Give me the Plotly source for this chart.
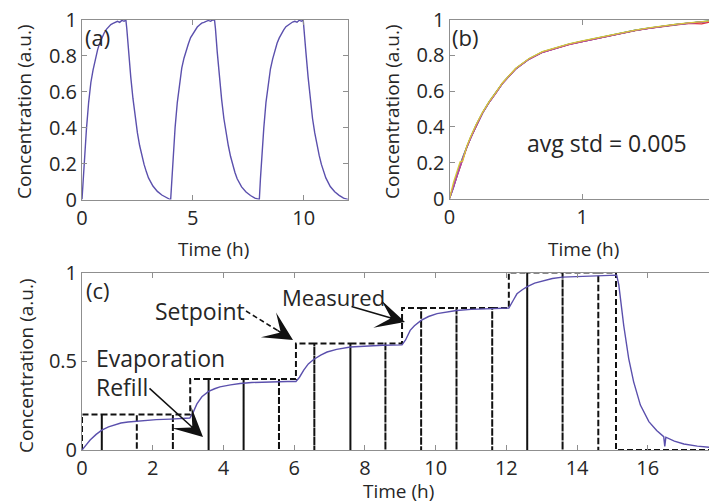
import plotly.graph_objects as go

# page is rendered in a 717x504 window with the default 8px body margin
WIN_W, WIN_H = 717, 504
OFF = 8
W, H = WIN_W - OFF, WIN_H - OFF

# ---------------- Panel (a): periodic concentration ----------------
time_a = [0.0, 0.05, 0.1, 0.2, 0.3, 0.4, 0.5, 0.6, 0.7, 0.8, 0.9, 1.0, 1.1, 1.2, 1.3, 1.4, 1.5, 1.6, 1.7, 1.8, 1.9, 1.98,
          2.02, 2.1, 2.2, 2.3, 2.4, 2.5, 2.6, 2.7, 2.8, 2.9, 3.0, 3.2, 3.4, 3.6, 3.8, 3.98,
          4.0, 4.05, 4.1, 4.2, 4.3, 4.4, 4.5, 4.6, 4.7, 4.8, 4.9, 5.0, 5.1, 5.2, 5.3, 5.4, 5.5, 5.6, 5.7, 5.8, 5.9, 5.98,
          6.02, 6.1, 6.2, 6.3, 6.4, 6.5, 6.6, 6.7, 6.8, 6.9, 7.0, 7.2, 7.4, 7.6, 7.8, 7.98,
          8.0, 8.05, 8.1, 8.2, 8.3, 8.4, 8.5, 8.6, 8.7, 8.8, 8.9, 9.0, 9.1, 9.2, 9.3, 9.4, 9.5, 9.6, 9.7, 9.8, 9.9, 9.98,
          10.02, 10.1, 10.2, 10.3, 10.4, 10.5, 10.6, 10.7, 10.8, 10.9, 11.0, 11.2, 11.4, 11.6, 11.8, 12.0]
conc_a = [0.0, 0.11, 0.21, 0.39, 0.54, 0.65, 0.72, 0.78, 0.83, 0.87, 0.9, 0.925, 0.945, 0.96, 0.972, 0.978, 0.985, 0.99, 0.984, 0.995, 0.99, 0.997,
          0.95, 0.82, 0.68, 0.56, 0.45, 0.37, 0.30, 0.245, 0.195, 0.155, 0.12, 0.075, 0.045, 0.025, 0.01, 0.0,
          0.0, 0.12, 0.22, 0.40, 0.54, 0.65, 0.73, 0.785, 0.83, 0.865, 0.9, 0.92, 0.94, 0.958, 0.97, 0.98, 0.984, 0.99, 0.995, 0.99, 0.998, 0.995,
          0.95, 0.82, 0.675, 0.555, 0.45, 0.37, 0.30, 0.24, 0.19, 0.15, 0.115, 0.07, 0.042, 0.022, 0.008, 0.0,
          0.0, 0.115, 0.215, 0.395, 0.54, 0.645, 0.725, 0.78, 0.83, 0.868, 0.898, 0.922, 0.942, 0.96, 0.97, 0.978, 0.986, 0.99, 0.985, 0.996, 0.99, 0.997,
          0.95, 0.82, 0.68, 0.56, 0.45, 0.37, 0.30, 0.245, 0.195, 0.155, 0.12, 0.072, 0.043, 0.023, 0.008, 0.0]

# ---------------- Panel (b): overlaid repeated rises ----------------
time_b = [0.0, 0.03, 0.06, 0.08, 0.1, 0.13, 0.16, 0.2, 0.25, 0.3, 0.35, 0.4, 0.5, 0.6, 0.7, 0.8, 0.9, 1.0,
          1.1, 1.2, 1.3, 1.4, 1.5, 1.6, 1.7, 1.8, 1.9, 1.95, 2.0]
run_blue = [0.0, 0.06, 0.135, 0.18, 0.225, 0.285, 0.34, 0.405, 0.478, 0.538, 0.59, 0.643, 0.724, 0.779, 0.817, 0.84, 0.861, 0.877,
            0.893, 0.908, 0.925, 0.939, 0.951, 0.962, 0.971, 0.979, 0.986, 0.99, 0.993]
run_green = [0.0, 0.075, 0.145, 0.19, 0.23, 0.29, 0.345, 0.41, 0.482, 0.542, 0.592, 0.646, 0.727, 0.781, 0.819, 0.842, 0.863, 0.879,
             0.895, 0.91, 0.926, 0.94, 0.952, 0.963, 0.972, 0.98, 0.988, 0.992, 0.995]
run_cyan = [0.0, 0.072, 0.142, 0.188, 0.228, 0.288, 0.342, 0.408, 0.48, 0.54, 0.59, 0.645, 0.726, 0.78, 0.818, 0.841, 0.862, 0.878,
            0.894, 0.909, 0.925, 0.94, 0.952, 0.962, 0.971, 0.98, 0.987, 0.991, 0.994]
run_yellow = [0.0, 0.09, 0.16, 0.205, 0.21, 0.292, 0.346, 0.412, 0.483, 0.543, 0.593, 0.647, 0.728, 0.782, 0.82, 0.843, 0.864, 0.88,
              0.896, 0.911, 0.927, 0.941, 0.953, 0.964, 0.973, 0.981, 0.988, 0.991, 0.994]
run_magenta = [0.0, 0.07, 0.14, 0.185, 0.226, 0.286, 0.341, 0.407, 0.479, 0.539, 0.589, 0.644, 0.725, 0.779, 0.817, 0.84, 0.861, 0.877,
               0.893, 0.908, 0.924, 0.939, 0.951, 0.962, 0.971, 0.979, 0.984, 0.988, 0.992]
run_red = [0.0, 0.068, 0.138, 0.183, 0.224, 0.285, 0.34, 0.406, 0.479, 0.539, 0.59, 0.644, 0.725, 0.779, 0.816, 0.838, 0.86, 0.876,
           0.892, 0.907, 0.923, 0.938, 0.95, 0.961, 0.969, 0.978, 0.976, 0.984, 0.99]

# ---------------- Panel (c): setpoint tracking ----------------
time_c = [0.0, 0.1, 0.23, 0.4, 0.56, 0.75, 0.9, 1.1, 1.3, 1.55, 1.8, 2.1, 2.5, 2.8, 3.05,
          3.15, 3.25, 3.39, 3.58, 3.75, 3.9, 4.2, 4.47, 4.8, 5.13, 5.5, 5.8, 6.05,
          6.15, 6.27, 6.4, 6.55, 6.75, 6.93, 7.2, 7.59, 8.0, 8.5, 9.05,
          9.15, 9.28, 9.4, 9.59, 9.8, 10.04, 10.3, 10.59, 11.0, 11.6, 12.07,
          12.2, 12.3, 12.45, 12.59, 12.8, 13.06, 13.3, 13.59, 14.0, 14.6, 15.05, 15.12,
          15.18, 15.25, 15.32, 15.46, 15.6, 15.79, 16.03, 16.25, 16.45, 16.48, 16.51, 16.75, 17.02, 17.4, 17.87]
conc_c = [0.0, 0.025, 0.056, 0.088, 0.112, 0.13, 0.14, 0.152, 0.158, 0.163, 0.168, 0.171, 0.174, 0.177, 0.18,
          0.215, 0.26, 0.30, 0.33, 0.345, 0.356, 0.367, 0.375, 0.38, 0.383, 0.385, 0.386, 0.386,
          0.41, 0.45, 0.485, 0.51, 0.535, 0.552, 0.567, 0.58, 0.586, 0.59, 0.592,
          0.62, 0.674, 0.70, 0.73, 0.752, 0.768, 0.778, 0.786, 0.792, 0.796, 0.80,
          0.845, 0.88, 0.903, 0.92, 0.94, 0.955, 0.966, 0.974, 0.978, 0.98, 0.985, 0.985,
          0.93, 0.82, 0.70, 0.515, 0.384, 0.253, 0.16, 0.11, 0.075, 0.02, 0.072, 0.05, 0.034, 0.022, 0.013]

setpoint_change_times = [0.0, 3.06, 6.05, 9.05, 12.07, 15.1]
setpoint_levels = [0.2, 0.4, 0.6, 0.8, 1.0, 0.0]
refill_times = [0.56, 1.55, 2.57, 3.58, 4.57, 5.57, 6.57, 7.59, 8.58, 9.59, 10.59, 11.6, 12.59, 13.59, 14.6]
t_end_c = 17.9

# build setpoint path (step function with refill dips to zero)
sp_x, sp_y = [0.0], [0.0]
level = 0.0
events = sorted([(t, 'step', lv) for t, lv in zip(setpoint_change_times, setpoint_levels)] +
                [(t, 'refill', None) for t in refill_times], key=lambda e: e[0])
for t, kind, lv in events:
    sp_x.append(t); sp_y.append(level)
    if kind == 'step':
        level = lv
        sp_x.append(t); sp_y.append(level)
    else:
        sp_x += [t, t]; sp_y += [0.0, level]
sp_x.append(t_end_c); sp_y.append(level)

# ---------------- styling ----------------
FONT = "Open Sans, Noto Sans, DejaVu Sans, sans-serif"
TXT = "#262626"
LINE = "#8f8f8f"
MEAS = "#5b50ad"


def px(x):
    # window pixel -> paper fraction
    return (x - OFF) / W


def py(y):
    return 1 - (y - OFF) / H


fig = go.Figure()
fig.add_trace(go.Scatter(x=time_a, y=conc_a, mode="lines", line=dict(color=MEAS, width=1.4),
                         xaxis="x", yaxis="y", showlegend=False))
for vals, col in [(run_blue, "#3a3ad6"), (run_green, "#3fae48"), (run_red, "#e0303a"), (run_cyan, "#38b7c4"),
                  (run_magenta, "#c23aa6"), (run_yellow, "#d9c53a")]:
    fig.add_trace(go.Scatter(x=time_b, y=vals, mode="lines", line=dict(color=col, width=1.3),
                             xaxis="x2", yaxis="y2", showlegend=False))
fig.add_trace(go.Scatter(x=sp_x, y=sp_y, mode="lines", line=dict(color="#111111", width=2, dash="6px,3px"),
                         xaxis="x3", yaxis="y3", showlegend=False))
fig.add_trace(go.Scatter(x=time_c, y=conc_c, mode="lines", line=dict(color=MEAS, width=1.4),
                         xaxis="x3", yaxis="y3", showlegend=False))

axis_common = dict(showline=True, linecolor=LINE, linewidth=1, mirror="ticks", ticks="inside",
                   ticklen=5, tickcolor=LINE, showgrid=False, zeroline=False,
                   tickfont=dict(family=FONT, size=20, color=TXT), automargin=False,
                   ticklabeloverflow="allow")

fig.update_layout(
    width=W, height=H, margin=dict(l=0, r=0, t=0, b=0),
    paper_bgcolor="white", plot_bgcolor="white",
    xaxis=dict(domain=[px(82), px(348)], range=[0, 12], tickvals=[0, 5, 10], ticktext=["0", "5", "10"],
               anchor="y", **axis_common),
    yaxis=dict(domain=[py(199.5), py(19.5)], range=[0, 1], tickvals=[0, 0.2, 0.4, 0.6, 0.8, 1],
               ticktext=["0", "0.2", "0.4", "0.6", "0.8", "1"], anchor="x", **axis_common),
    xaxis2=dict(domain=[px(449.5), px(715)], range=[0, 2], tickvals=[0, 1, 2], ticktext=["0", "1", "2"],
                anchor="y2", **axis_common),
    yaxis2=dict(domain=[py(198.5), py(19.5)], range=[0, 1], tickvals=[0, 0.2, 0.4, 0.6, 0.8, 1],
                ticktext=["0", "0.2", "0.4", "0.6", "0.8", "1"], anchor="x2", **axis_common),
    xaxis3=dict(domain=[px(82), px(715)], range=[0, t_end_c], tickvals=[0, 2, 4, 6, 8, 10, 12, 14, 16],
                ticktext=["0", "2", "4", "6", "8", "10", "12", "14", "16"], anchor="y3", **axis_common),
    yaxis3=dict(domain=[py(450), py(272.5)], range=[0, 1], tickvals=[0, 0.5, 1],
                ticktext=["0", "0.5", "1"], anchor="x3", **axis_common),
)


def text(x, y, s, size=23, angle=0, xanchor="center"):
    fig.add_annotation(x=px(x), y=py(y), xref="paper", yref="paper", text=s, showarrow=False,
                       textangle=angle, xanchor=xanchor, yanchor="middle",
                       font=dict(family=FONT, size=size, color=TXT))


# axis titles
text(24, 112, "Concentration (a.u.)", size=19, angle=-90)
text(392, 112, "Concentration (a.u.)", size=19, angle=-90)
text(26, 366, "Concentration (a.u.)", size=19, angle=-90)
text(213, 249, "Time (h)", size=19)
text(583, 249, "Time (h)", size=19)
text(398, 491, "Time (h)", size=19)

# panel labels and notes
text(97, 37, "(a)", size=22)
text(465, 37, "(b)", size=22)
text(98, 290, "(c)", size=22)
text(607, 143, "avg std = 0.005", size=23)
text(153, 311, "Setpoint", size=23, xanchor="left")
text(280, 297, "Measured", size=22, xanchor="left")
text(94, 358, "Evaporation", size=23, xanchor="left")
text(94, 387, "Refill", size=23, xanchor="left")


def arrow(tail, tip, dashed=False):
    tx, ty = tail
    hx, hy = tip
    if dashed:
        dx, dy = hx - tx, hy - ty
        L = (dx * dx + dy * dy) ** 0.5
        ux, uy = dx / L, dy / L
        bx, by = hx - ux * 16, hy - uy * 16
        fig.add_shape(type="line", xref="paper", yref="paper", x0=px(tx), y0=py(ty), x1=px(bx), y1=py(by),
                      line=dict(color="#111111", width=1.6, dash="5px,3px"))
        fig.add_annotation(x=px(hx), y=py(hy), xref="paper", yref="paper", text="", showarrow=True,
                           ax=-ux * 20, ay=-uy * 20, arrowhead=3, arrowsize=3.2, arrowwidth=1.5,
                           arrowcolor="#111111")
    else:
        fig.add_annotation(x=px(hx), y=py(hy), xref="paper", yref="paper", text="", showarrow=True,
                           ax=tx - hx, ay=ty - hy, arrowhead=3, arrowsize=3.2, arrowwidth=1.5,
                           arrowcolor="#111111")


arrow((246, 311), (293, 340), dashed=True)
arrow((350, 306), (405, 322))
arrow((148, 387), (203, 437))

fig.write_html("out.html")
